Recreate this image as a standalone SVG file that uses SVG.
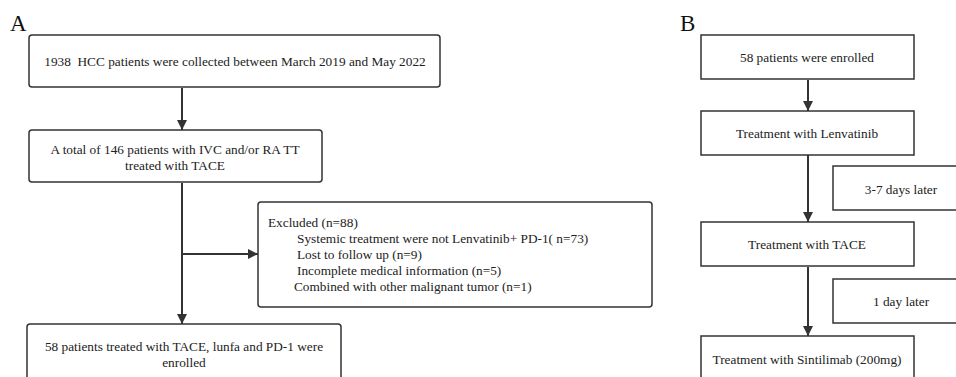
<svg xmlns="http://www.w3.org/2000/svg" width="956" height="377" viewBox="0 0 956 377">
<defs>
<marker id="ah" viewBox="0 0 10 10" refX="10" refY="5" markerWidth="10" markerHeight="10" markerUnits="userSpaceOnUse" orient="auto">
<path d="M0,0 L10,5 L0,10 Z" fill="#333"/>
</marker>
<style>
.bx{fill:#fff;stroke:#333;stroke-width:1.5}
.t{font-family:"Liberation Serif","Times New Roman",serif;font-size:13.3px;fill:#222;white-space:pre}
.c{text-anchor:middle}
.lb{font-family:"Liberation Serif","Times New Roman",serif;font-size:23px;fill:#111}
.ln{stroke:#333;stroke-width:2;fill:none}
</style>
</defs>
<rect width="956" height="377" fill="#fff"/>
<text class="lb" x="10" y="31">A</text>
<text class="lb" x="680" y="31">B</text>
<g id="connectors">
<line class="ln" x1="182" y1="88" x2="182" y2="130" marker-end="url(#ah)"/>
<line class="ln" x1="182" y1="183" x2="182" y2="324" marker-end="url(#ah)"/>
<line class="ln" x1="182" y1="254" x2="258" y2="254" marker-end="url(#ah)"/>
<line class="ln" x1="808" y1="80" x2="808" y2="111" marker-end="url(#ah)"/>
<line class="ln" x1="808" y1="155" x2="808" y2="222" marker-end="url(#ah)"/>
<line class="ln" x1="808" y1="267" x2="808" y2="336" marker-end="url(#ah)"/>
</g>
<g id="a1">
<rect class="bx" x="29" y="35" width="411" height="52" rx="3"/>
<text class="t c" x="235" y="66" xml:space="preserve">1938  HCC patients were collected between March 2019 and May 2022</text>
</g>
<g id="a2">
<rect class="bx" x="29" y="130" width="293" height="52" rx="3"/>
<text class="t c" x="175" y="154">A total of 146 patients with IVC and/or RA TT</text>
<text class="t c" x="175" y="170">treated with TACE</text>
</g>
<g id="a3">
<rect class="bx" x="258" y="202" width="394" height="105" rx="3"/>
<text class="t" x="268" y="227">Excluded (n=88)</text>
<text class="t" x="297" y="243">Systemic treatment were not Lenvatinib+ PD-1( n=73)</text>
<text class="t" x="297" y="259">Lost to follow up (n=9)</text>
<text class="t" x="297" y="275">Incomplete medical information (n=5)</text>
<text class="t" x="294" y="291">Combined with other malignant tumor (n=1)</text>
</g>
<g id="a4">
<rect class="bx" x="27" y="324" width="314" height="70" rx="3"/>
<text class="t c" x="184" y="351">58 patients treated with TACE, lunfa and PD-1 were</text>
<text class="t c" x="184" y="367">enrolled</text>
</g>
<g id="b1">
<rect class="bx" x="701" y="35" width="213" height="44"/>
<text class="t c" x="807" y="62">58 patients were enrolled</text>
</g>
<g id="b2">
<rect class="bx" x="701" y="111" width="213" height="44"/>
<text class="t c" x="807" y="138">Treatment with Lenvatinib</text>
</g>
<g id="b3">
<rect class="bx" x="701" y="222" width="213" height="44"/>
<text class="t c" x="807" y="249">Treatment with TACE</text>
</g>
<g id="b4">
<rect class="bx" x="701" y="336" width="213" height="60"/>
<text class="t c" x="807" y="364">Treatment with Sintilimab (200mg)</text>
</g>
<g id="s1">
<rect class="bx" x="833" y="166" width="140" height="44"/>
<text class="t c" x="901" y="194">3-7 days later</text>
</g>
<g id="s2">
<rect class="bx" x="833" y="279" width="140" height="44"/>
<text class="t c" x="901" y="306">1 day later</text>
</g>
</svg>
